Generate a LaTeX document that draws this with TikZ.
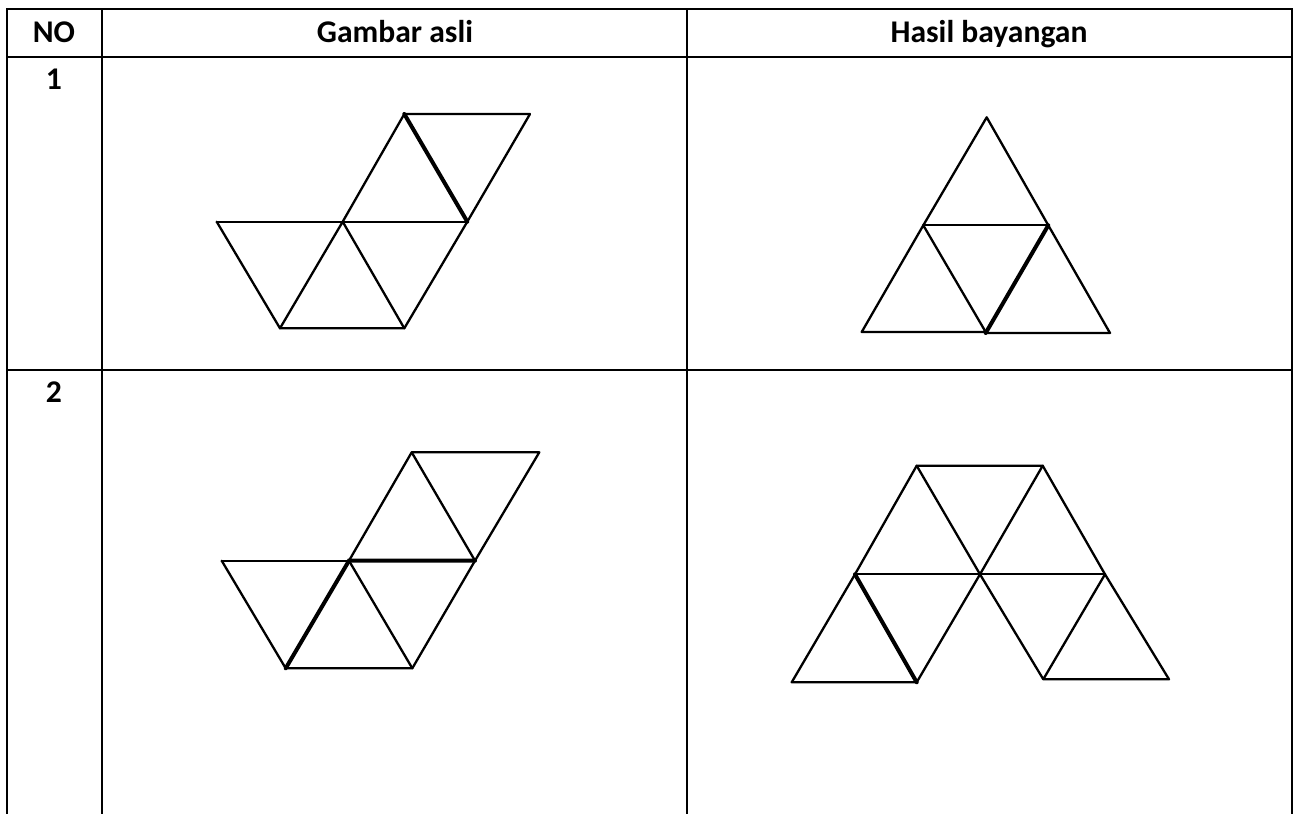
\documentclass[tikz,border=0pt]{standalone}
\usepackage{fontspec}
\setmainfont{Carlito}
\begin{document}
\begin{tikzpicture}[x=0.5pt,y=-0.5pt,
  grid/.style={line width=1.2pt},
  edge/.style={line width=1.15pt, line join=round, line cap=round},
  boldedge/.style={line width=2pt, line cap=round},
  hdr/.style={font=\fontsize{15.8}{18}\selectfont\bfseries, inner sep=0pt, anchor=base}]
\useasboundingbox (0,0) rectangle (1298,814);
% table
\draw[grid] (7,814) -- (7,9) -- (1292,9) -- (1292,814);
\draw[grid] (102,9) -- (102,814);
\draw[grid] (687,9) -- (687,814);
\draw[grid] (7,57) -- (1292,57);
\draw[grid] (7,370) -- (1292,370);
% texts
\node[hdr] (no) at (54,42) {NO};
\node[hdr] (ga) at (395,42) {Gambar asli};
\node[hdr] (hb) at (989,42) {Hasil bayangan};
\node[hdr] (r1) at (54,89) {1};
\node[hdr] (r2) at (54,402) {2};
% row 1 original
\draw[edge] (342.7,221.7) -- (404.3,114) -- (530,114) -- (467.3,221.7);
\draw[edge] (216.7,221.7) -- (467.3,221.7);
\draw[edge] (216.7,221.7) -- (280,328.3) -- (404.3,328.3) -- (467.3,221.7);
\draw[edge] (280,328.3) -- (342.7,221.7) -- (404.3,328.3);
\draw[boldedge] (404.3,114) -- (467.3,221.7);
% row 1 image
\draw[edge] (923.3,225.3) -- (986.7,117.3) -- (1048.3,225.3);
\draw[edge] (923.3,225.3) -- (1048.3,225.3);
\draw[edge] (923.3,225.3) -- (861.7,332) -- (985.7,332) -- (923.3,225.3);
\draw[edge] (1048.3,225.3) -- (1110,333) -- (985.7,333);
\draw[boldedge] (985.7,333) -- (1048.3,225.3);
% row 2 original
\draw[edge] (349,560.7) -- (411.7,452.3) -- (539.3,452.3) -- (475,560.7);
\draw[edge] (411.7,452.3) -- (475,560.7);
\draw[edge] (221.7,560.7) -- (349,560.7);
\draw[edge] (221.7,560.7) -- (285.7,668.3) -- (412.3,668.3) -- (475,560.7);
\draw[edge] (349,560.7) -- (412.3,668.3);
\draw[boldedge] (285.7,668.3) -- (349,560.7) -- (475,560.7);
% row 2 image
\draw[edge] (855,574.3) -- (916.7,465.7) -- (1042.7,465.7) -- (1105,574.3);
\draw[edge] (916.7,465.7) -- (980,574.3) -- (1042.7,465.7);
\draw[edge] (855,574.3) -- (1105,574.3);
\draw[edge] (855,574.3) -- (791.7,682.3) -- (916.7,682.3) -- (980,574.3);
\draw[edge] (980,574.3) -- (1043.3,679.3) -- (1105,574.3) -- (1169,679.3) -- (1043.3,679.3);
\draw[boldedge] (855,574.3) -- (916.7,682.3);
\end{tikzpicture}
\end{document}
